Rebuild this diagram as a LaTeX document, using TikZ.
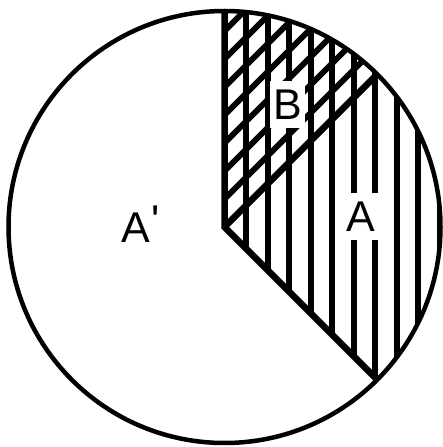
\documentclass[tikz,border=0pt]{standalone}
\usepackage{fontspec}
\newfontfamily\lblfont{Liberation Sans}
\usetikzlibrary{calc}

\begin{document}
\begin{tikzpicture}[x=1pt, y=1pt,
    hatch/.style={line width=6pt},
    rim/.style={line width=4.5pt},
    edge/.style={line width=6.5pt},
    lbl/.style={inner xsep=3pt, inner ysep=8pt, text height=31pt, text depth=0pt,
      font=\lblfont\fontsize{43}{43}\selectfont}]
  \useasboundingbox (0,0) rectangle (443,447);
  \def\rcirc{216}
  \coordinate (o) at (224.5,220);
  \coordinate (top) at ($(o)+(90:\rcirc)$);
  \coordinate (mid) at ($(o)+(45:\rcirc)$);
  \coordinate (low) at ($(o)+(-45:\rcirc)$);
  % vertical hatching of A
  \begin{scope}
    \clip (o) -- (top) arc[start angle=90, end angle=-45, radius=\rcirc] -- cycle;
    \foreach \k in {1,...,10}
      \draw[hatch] ($(o)+(21.5*\k,-230)$) -- ++(0,460);
  \end{scope}
  % extra diagonal hatching of B
  \begin{scope}
    \clip (o) -- (top) arc[start angle=90, end angle=45, radius=\rcirc] -- cycle;
    \foreach \k in {1,...,9}
      \draw[hatch] ($(o)+(-20,28*\k-20)$) -- ++(260,260);
  \end{scope}
  % labels
  \node[lbl, fill=white, anchor=base] (labA) at (361,215) {A};
  \node[lbl, fill=white, anchor=base] (labB) at (287.5,327) {B};
  \node[lbl, anchor=base west, inner sep=0pt] (labAp) at (121.7,204)
    {A\hspace{1pt}\raisebox{7pt}{\textquotesingle}};
  % outline
  \draw[edge] (top) -- (o) -- (low);
  \draw[edge] (o) -- (mid);
  \draw[rim] (o) circle[radius=\rcirc];
\end{tikzpicture}
\end{document}
